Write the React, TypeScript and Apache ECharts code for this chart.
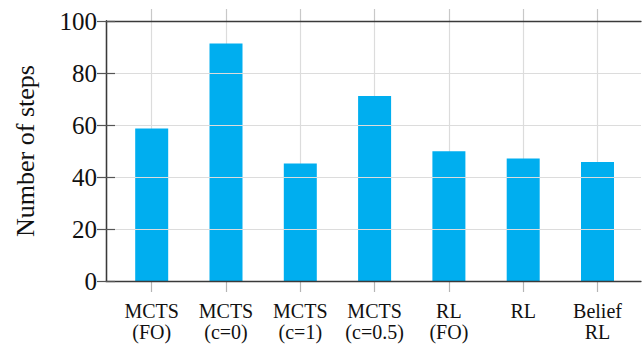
import React, { useEffect, useRef } from "react";
import * as echarts from "echarts";

const categories = ["MCTS\n(FO)", "MCTS\n(c=0)", "MCTS\n(c=1)", "MCTS\n(c=0.5)", "RL\n(FO)", "RL", "Belief\nRL"];
const steps = [58.7, 91.3, 45.2, 71.2, 49.9, 47.1, 45.8];
const yTicks = [0, 20, 40, 60, 80, 100];

const FONT = "'Liberation Serif', 'DejaVu Serif', serif";

export default function App() {
  const ref = useRef<HTMLDivElement>(null);
  useEffect(() => {
    if (!ref.current) return;
    const chart = echarts.init(ref.current, undefined, { renderer: "svg" });
    const yMin = yTicks[0];
    const yMax = yTicks[yTicks.length - 1];
    const yInt = yTicks[1] - yTicks[0];
    const frameColor = "#3a3a3a";
    const gridColor = "#dcdcdc";
    chart.setOption({
      animation: false,
      grid: [
        { left: 106, right: 1, top: 21, bottom: 64 },
        { left: 151.7, right: 44.5, top: 21, bottom: 64 },
      ],
      xAxis: [
        {
          gridIndex: 0, type: "value", min: 0, max: 1, position: "bottom",
          axisLine: { show: true, onZero: false, lineStyle: { color: frameColor, width: 1.3 } },
          axisTick: { show: false }, axisLabel: { show: false }, splitLine: { show: false }, z: 3,
        },
        {
          gridIndex: 0, type: "value", min: 0, max: 1, position: "top",
          axisLine: { show: true, onZero: false, lineStyle: { color: frameColor, width: 1.3 } },
          axisTick: { show: false }, axisLabel: { show: false }, splitLine: { show: false }, z: 3,
        },
        {
          gridIndex: 1, type: "category", data: categories, boundaryGap: false, position: "bottom",
          axisLine: { show: false, onZero: false },
          axisTick: { show: true, interval: 0, length: 11, lineStyle: { color: "#b5b5b5", width: 1.2 } },
          axisLabel: {
            interval: 0, margin: 19, fontSize: 20, lineHeight: 21, fontFamily: FONT, color: "#111",
            verticalAlign: "top",
          },
          splitLine: { show: true, interval: 0, lineStyle: { color: gridColor, width: 1.2 } },
        },
        {
          gridIndex: 1, type: "category", data: categories, boundaryGap: false, position: "top",
          axisLine: { show: false, onZero: false },
          axisTick: { show: true, interval: 0, length: 12, lineStyle: { color: "#c8c8c8", width: 1.2 } },
          axisLabel: { show: false }, splitLine: { show: false },
        },
      ],
      yAxis: [
        {
          gridIndex: 0, type: "value", min: yMin, max: yMax, interval: yInt, position: "left",
          axisLine: { show: true, lineStyle: { color: frameColor, width: 1.3 } },
          axisTick: { show: true, inside: true, length: 9, lineStyle: { color: "#555", width: 1.2 } },
          axisLabel: { margin: 9, fontSize: 25, fontFamily: FONT, color: "#111" },
          splitLine: { show: true, showMinLine: false, showMaxLine: false, lineStyle: { color: gridColor, width: 1.2 } },
          name: "Number of steps", nameLocation: "middle", nameGap: 68,
          nameTextStyle: { fontSize: 26, fontFamily: FONT, color: "#111" },
          z: 3,
        },
        {
          gridIndex: 0, type: "value", min: yMin, max: yMax, interval: yInt, position: "right",
          axisLine: { show: true, lineStyle: { color: frameColor, width: 1.3 } },
          axisTick: { show: true, inside: true, length: 9, lineStyle: { color: "#555", width: 1.2 } },
          axisLabel: { show: false }, splitLine: { show: false }, z: 3,
        },
        {
          gridIndex: 1, type: "value", min: yMin, max: yMax, interval: yInt, show: false,
        },
      ],
      series: [
        {
          type: "bar", xAxisIndex: 2, yAxisIndex: 2, data: steps, barWidth: 33,
          itemStyle: { color: "#00AEEF" }, z: 2,
        },
      ],
    });
    return () => chart.dispose();
  }, []);
  return <div ref={ref} style={{ position: "absolute", left: 0, top: 0, width: 642, height: 345 }} />;
}
